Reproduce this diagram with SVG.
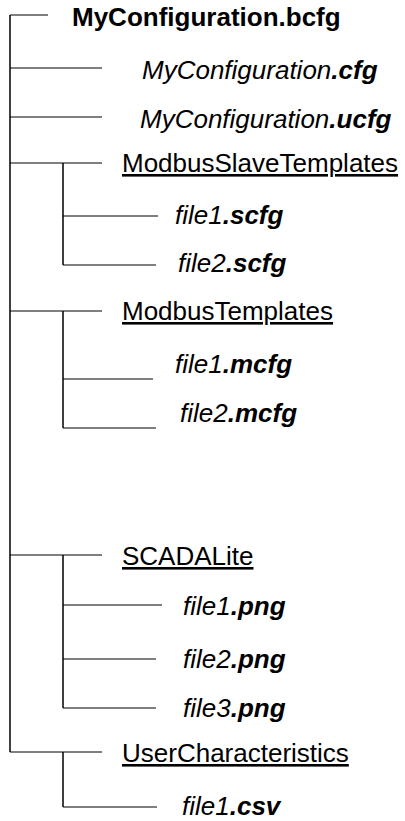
<svg xmlns="http://www.w3.org/2000/svg" width="405" height="821" viewBox="0 0 405 821">
<style>
text{font-family:"Liberation Sans",Arial,sans-serif;font-size:26px;fill:#000}
.t{font-weight:bold}
.i{font-style:italic}
.b{font-weight:bold}
.u{text-decoration:underline}
.c line{stroke:#000;stroke-width:1}
.c .trunk{stroke-width:1.5}
</style>
<rect width="405" height="821" fill="#fff"/>
<g class="c" id="connectors">
<line class="trunk" x1="10" y1="15" x2="10" y2="752"/>
<line x1="10" y1="15" x2="48" y2="15"/>
<line x1="10" y1="68" x2="102" y2="68"/>
<line x1="10" y1="117" x2="102" y2="117"/>
<line x1="10" y1="163" x2="102" y2="163"/>
<line class="trunk" x1="63" y1="163" x2="63" y2="265"/>
<line x1="63" y1="216" x2="158" y2="216"/>
<line x1="63" y1="265" x2="156" y2="265"/>
<line x1="10" y1="311" x2="102" y2="311"/>
<line class="trunk" x1="63" y1="311" x2="63" y2="428"/>
<line x1="63" y1="379" x2="153" y2="379"/>
<line x1="63" y1="428" x2="156" y2="428"/>
<line x1="10" y1="555" x2="102" y2="555"/>
<line class="trunk" x1="63" y1="555" x2="63" y2="708"/>
<line x1="63" y1="605" x2="162" y2="605"/>
<line x1="63" y1="659" x2="156" y2="659"/>
<line x1="63" y1="708" x2="156" y2="708"/>
<line x1="10" y1="752" x2="102" y2="752"/>
<line class="trunk" x1="63" y1="752" x2="63" y2="807"/>
<line x1="63" y1="807" x2="157" y2="807"/>
</g>
<g id="root"><text class="t" x="72" y="26">MyConfiguration.bcfg</text></g>
<g id="cfg"><text class="i" x="142" y="79">MyConfiguration<tspan class="b">.cfg</tspan></text></g>
<g id="ucfg"><text class="i" x="140" y="128">MyConfiguration<tspan class="b">.ucfg</tspan></text></g>
<g id="modbusSlave"><text class="u" x="122" y="172">ModbusSlaveTemplates</text></g>
<g id="scfg1"><text class="i" x="175" y="224">file1<tspan class="b">.scfg</tspan></text></g>
<g id="scfg2"><text class="i" x="178" y="272">file2<tspan class="b">.scfg</tspan></text></g>
<g id="modbus"><text class="u" x="122" y="320">ModbusTemplates</text></g>
<g id="mcfg1"><text class="i" x="175" y="373">file1<tspan class="b">.mcfg</tspan></text></g>
<g id="mcfg2"><text class="i" x="180" y="422">file2<tspan class="b">.mcfg</tspan></text></g>
<g id="scada"><text class="u" x="122" y="565">SCADALite</text></g>
<g id="png1"><text class="i" x="183" y="615">file1<tspan class="b">.png</tspan></text></g>
<g id="png2"><text class="i" x="183" y="668">file2<tspan class="b">.png</tspan></text></g>
<g id="png3"><text class="i" x="183" y="717">file3<tspan class="b">.png</tspan></text></g>
<g id="user"><text class="u" x="122" y="762">UserCharacteristics</text></g>
<g id="csv1"><text class="i" x="182" y="815">file1<tspan class="b">.csv</tspan></text></g>
</svg>
